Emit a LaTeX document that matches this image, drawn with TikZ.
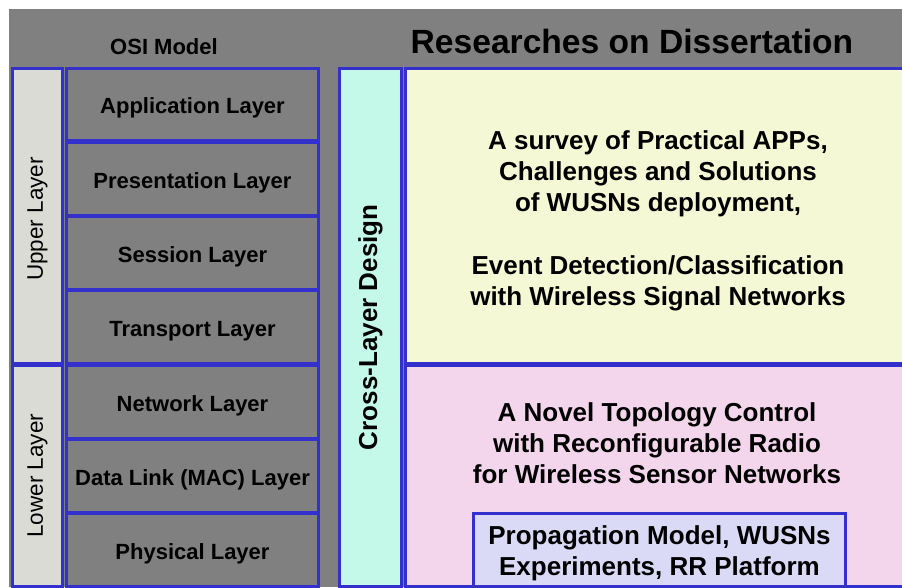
\documentclass[tikz,border=0pt]{standalone}
\usepackage{fontspec}
\setmainfont{Liberation Sans}
\usetikzlibrary{positioning}
\definecolor{osigray}{RGB}{128,128,128}
\definecolor{sidegray}{RGB}{219,219,214}
\definecolor{frameblue}{RGB}{52,48,204}
\definecolor{crosscyan}{RGB}{196,248,232}
\definecolor{appyellow}{RGB}{245,248,213}
\definecolor{netpink}{RGB}{243,214,236}
\definecolor{rrlavender}{RGB}{218,218,246}
\begin{document}
\begin{tikzpicture}
  [
    x=1pt, y=-1pt,
    every node/.style = {inner sep=0pt, outer sep=0pt, align=center},
    box/.style        = {draw=frameblue, line width=3pt, rectangle},
    layerbox/.style   = {box, fill=osigray, minimum width=252pt, minimum height=72.8pt,
                         text height=18.8pt, text depth=0pt,
                         font=\fontsize{22}{26}\selectfont\bfseries},
    sidebox/.style    = {box, fill=sidegray, minimum width=50pt},
    resbox/.style     = {box, minimum width=506pt},
    sidelabel/.style  = {rotate=90, font=\fontsize{22.5}{26}\selectfont},
    restext/.style    = {font=\fontsize{26}{31}\selectfont\bfseries},
    node distance     = 1.5pt
  ]
 \useasboundingbox (0,0) rectangle (902,587);
 \fill[osigray] (9,9) rectangle (902,587);
 \node[font=\fontsize{22}{26}\selectfont\bfseries] (osi) at (164,47) {OSI Model};
 \node[font=\fontsize{33.6}{40}\selectfont\bfseries] (title) at (632,41) {Researches on Dissertation};
 % the seven layers
 \node[layerbox] (app) at (192.5,104.4) {Application Layer};
 \node[layerbox, below=of app]  (pres)  {Presentation Layer};
 \node[layerbox, below=of pres] (sess)  {Session Layer};
 \node[layerbox, below=of sess] (trans) {Transport Layer};
 \node[layerbox, below=of trans] (net)  {Network Layer};
 \node[layerbox, below=of net]  (mac)   {Data Link (MAC) Layer};
 \node[layerbox, below=of mac]  (phy)   {Physical Layer};
 \node[sidebox, minimum height=295.7pt] (upper) at (37.5,215.85) {};
 \node[sidebox, minimum height=221.3pt, below=of upper] (lower) {};
 \node[sidelabel] (upperlbl) at (37.5,219) {Upper Layer};
 \node[sidelabel] (lowerlbl) at (lower) {Lower Layer};
 % research side
 \node[box, fill=crosscyan, minimum width=62pt, minimum height=518.5pt] (cross) at (370.5,327.25) {};
 \node[rotate=90, font=\fontsize{26}{30}\selectfont\bfseries] (crosslbl) at (cross) {Cross-Layer Design};
 \node[resbox, fill=appyellow, minimum height=295.7pt] (upperres) at (658,215.85) {};
 \node[resbox, fill=netpink, minimum height=221.3pt, below=of upperres] (lowerres) {};
 \node[restext] (survey) at (658,221)
  {A survey of Practical APPs,\\ Challenges and Solutions\\ of WUSNs deployment,\\[32pt]
   Event Detection/Classification\\ with Wireless Signal Networks};
 \node[restext] (topo) at (657,443)
  {A Novel Topology Control\\ with Reconfigurable Radio\\ for Wireless Sensor Networks};
 \node[box, fill=rrlavender, minimum width=372pt, minimum height=73pt] (rr) at (659.5,550) {};
 \node[restext] (rrtext) at (659.5,553) {Propagation Model, WUSNs\\ Experiments, RR Platform};
\end{tikzpicture}
\end{document}
